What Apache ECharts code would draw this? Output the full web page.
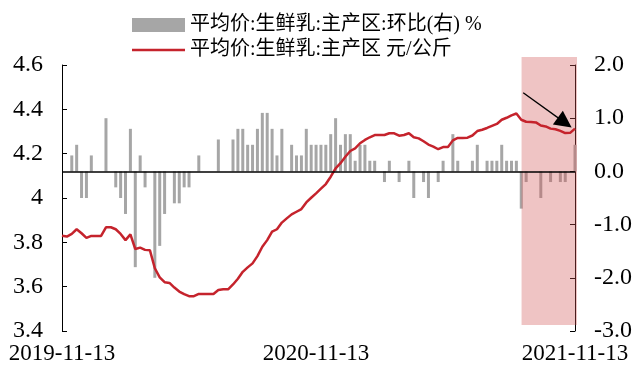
<!DOCTYPE html>
<html>
<head>
<meta charset="utf-8">
<script src="https://cdn.jsdelivr.net/npm/echarts@6/dist/echarts.min.js"></script>
<style>
  html, body { margin: 0; padding: 0; background: #fff; }
  #chart { width: 635px; height: 370px; }
</style>
</head>
<body>
<div id="chart"></div>
<script>
// weekly observations, first week 2019-11-13
var startDate = '2019-11-13'
var weekCount = 106
var tickLabels = ['2019-11-13', '2020-11-13', '2021-11-13']
var tickIndexes = [0, 52, 105]

// 平均价:生鲜乳:主产区:环比(右) %
var momChange = [
  0, 0, 0.3, 0.5, -0.5, -0.5, 0.3, 0, 0, 1.0,
  0, -0.3, -0.5, -0.8, 0.8, -1.8, 0.3, -0.3, 0, -2.0,
  -1.4, -0.8, 0, -0.6, -0.6, -0.3, -0.3, 0, 0.3, 0,
  0, 0, 0.6, 0, 0, 0.6, 0.8, 0.8, 0.5, 0.5,
  0.8, 1.1, 1.1, 0.8, 0.3, 0.8, 0, 0.5, 0.3, 0.3,
  0.8, 0.5, 0.5, 0.5, 0.5, 0.7, 1.0, 0.5, 0.7, 0.7,
  0.2, 0.5, 0.5, 0.2, 0.2, 0, -0.2, 0.2, 0, -0.2,
  0, 0.2, -0.5, 0, -0.2, -0.5, 0, -0.2, 0.2, 0,
  0.7, 0.2, 0, 0, 0.2, 0.5, 0, 0.2, 0.2, 0.2,
  0.5, 0.2, 0.2, 0.2, -0.7, -0.2, 0, 0, -0.5, 0,
  -0.2, 0, -0.2, -0.2, 0, 0.5
]

// 平均价:生鲜乳:主产区 元/公斤
var avgPrice = [
  3.830, 3.826, 3.838, 3.859, 3.841, 3.820, 3.829, 3.829, 3.829, 3.868,
  3.868, 3.859, 3.838, 3.810, 3.836, 3.770, 3.776, 3.766, 3.764, 3.683,
  3.642, 3.620, 3.617, 3.596, 3.578, 3.566, 3.557, 3.557, 3.567, 3.567,
  3.567, 3.567, 3.585, 3.588, 3.588, 3.610, 3.636, 3.667, 3.687, 3.705,
  3.738, 3.780, 3.810, 3.848, 3.859, 3.889, 3.908, 3.926, 3.938, 3.950,
  3.980, 4.001, 4.021, 4.042, 4.063, 4.096, 4.134, 4.157, 4.186, 4.212,
  4.224, 4.247, 4.262, 4.274, 4.284, 4.284, 4.284, 4.292, 4.292, 4.281,
  4.284, 4.292, 4.274, 4.269, 4.256, 4.241, 4.232, 4.220, 4.230, 4.230,
  4.260, 4.271, 4.271, 4.272, 4.282, 4.302, 4.308, 4.316, 4.325, 4.334,
  4.353, 4.362, 4.373, 4.381, 4.353, 4.344, 4.343, 4.341, 4.327, 4.323,
  4.313, 4.310, 4.303, 4.293, 4.294, 4.313
]

// highlighted recent weeks and the arrow pointing at the latest decline
var shadeFrom = 93.7
var shadeTo = 105
var arrowFrom = [94.4, 4.475]
var arrowTo = [102.9, 4.340]

var barName = '平均价:生鲜乳:主产区:环比(右) %'
var lineName = '平均价:生鲜乳:主产区 元/公斤'

var categories = []
var d0 = new Date(startDate + 'T00:00:00Z')
for (var i = 0; i < weekCount; i++) {
  var d = new Date(d0.getTime() + i * 7 * 86400000)
  categories.push(d.toISOString().slice(0, 10))
}

var serif = 'Liberation Serif, Noto Sans CJK SC'
var chart = echarts.init(document.getElementById('chart'))

chart.setOption({
  animation: false,
  legend: {
    orient: 'vertical',
    left: 127,
    top: 10,
    itemWidth: 53,
    itemHeight: 14,
    itemGap: 5,
    textStyle: { fontFamily: serif, fontSize: 20, color: '#000' },
    data: [
      { name: barName, icon: 'rect' },
      { name: lineName, icon: 'path://M0 0H200V10H0Z' }
    ]
  },
  grid: [
    { left: 62, right: 58, top: 65, bottom: 39 },
    { left: 62, right: 58, top: 57, bottom: 45 }
  ],
  xAxis: [{
    type: 'category',
    data: categories,
    boundaryGap: false,
    axisLine: { show: false, onZero: false },
    axisTick: { show: false },
    axisLabel: {
      interval: function (idx) { return tickIndexes.indexOf(idx) >= 0 },
      formatter: function (v, idx) { return tickLabels[tickIndexes.indexOf(idx)] },
      fontFamily: serif,
      fontSize: 23,
      color: '#000',
      margin: 11
    },
    splitLine: { show: false }
  }, {
    type: 'value', gridIndex: 1, min: 0, max: weekCount - 1, show: false
  }, {
    type: 'value', gridIndex: 0, min: 0, max: weekCount - 1, show: false
  }],
  yAxis: [{
    type: 'value',
    min: 3.4,
    max: 4.6,
    interval: 0.2,
    axisLine: { show: true, lineStyle: { color: '#000', width: 1 } },
    axisTick: { show: true, inside: true, length: 5, lineStyle: { color: '#000' } },
    axisLabel: { fontFamily: serif, fontSize: 24, color: '#000', margin: 19 },
    splitLine: { show: false }
  }, {
    type: 'value',
    min: -3,
    max: 2,
    interval: 1,
    position: 'right',
    axisLine: { show: true, lineStyle: { color: '#000', width: 1 } },
    axisTick: { show: true, inside: true, length: 5, lineStyle: { color: '#000' } },
    axisLabel: {
      fontFamily: serif, fontSize: 24, color: '#000', margin: 19,
      formatter: function (v) { return v.toFixed(1) }
    },
    splitLine: { show: false }
  }, {
    type: 'value', gridIndex: 1, min: 0, max: 1, show: false
  }],
  series: [{
    name: barName,
    type: 'bar',
    yAxisIndex: 1,
    data: momChange,
    barWidth: 3,
    z: 2,
    itemStyle: { color: '#A6A6A6' },
    markLine: {
      silent: true,
      z: 5,
      symbol: 'none',
      label: { show: false },
      lineStyle: { color: '#000', width: 1.6, type: 'solid' },
      data: [{ yAxis: 0 }]
    }
  }, {
    name: lineName,
    type: 'line',
    data: avgPrice,
    z: 4,
    symbol: 'none',
    lineStyle: { color: '#C5232C', width: 2.5 },
    itemStyle: { color: '#C5232C' }
  }, {
    type: 'line',
    xAxisIndex: 1,
    yAxisIndex: 2,
    data: [],
    markArea: {
      silent: true,
      z: 3,
      itemStyle: { color: 'rgba(209, 86, 86, 0.35)' },
      data: [[{ coord: [shadeFrom, 0] }, { coord: [shadeTo, 1] }]]
    }
  }, {
    type: 'line',
    xAxisIndex: 2,
    yAxisIndex: 0,
    data: [],
    markLine: {
      silent: true,
      z: 6,
      symbol: ['none', 'triangle'],
      symbolSize: 17,
      label: { show: false },
      itemStyle: { color: '#000' },
      lineStyle: { color: '#000', width: 1.3, type: 'solid' },
      data: [[{ coord: arrowFrom }, { coord: arrowTo }]]
    }
  }]
})
</script>
</body>
</html>
